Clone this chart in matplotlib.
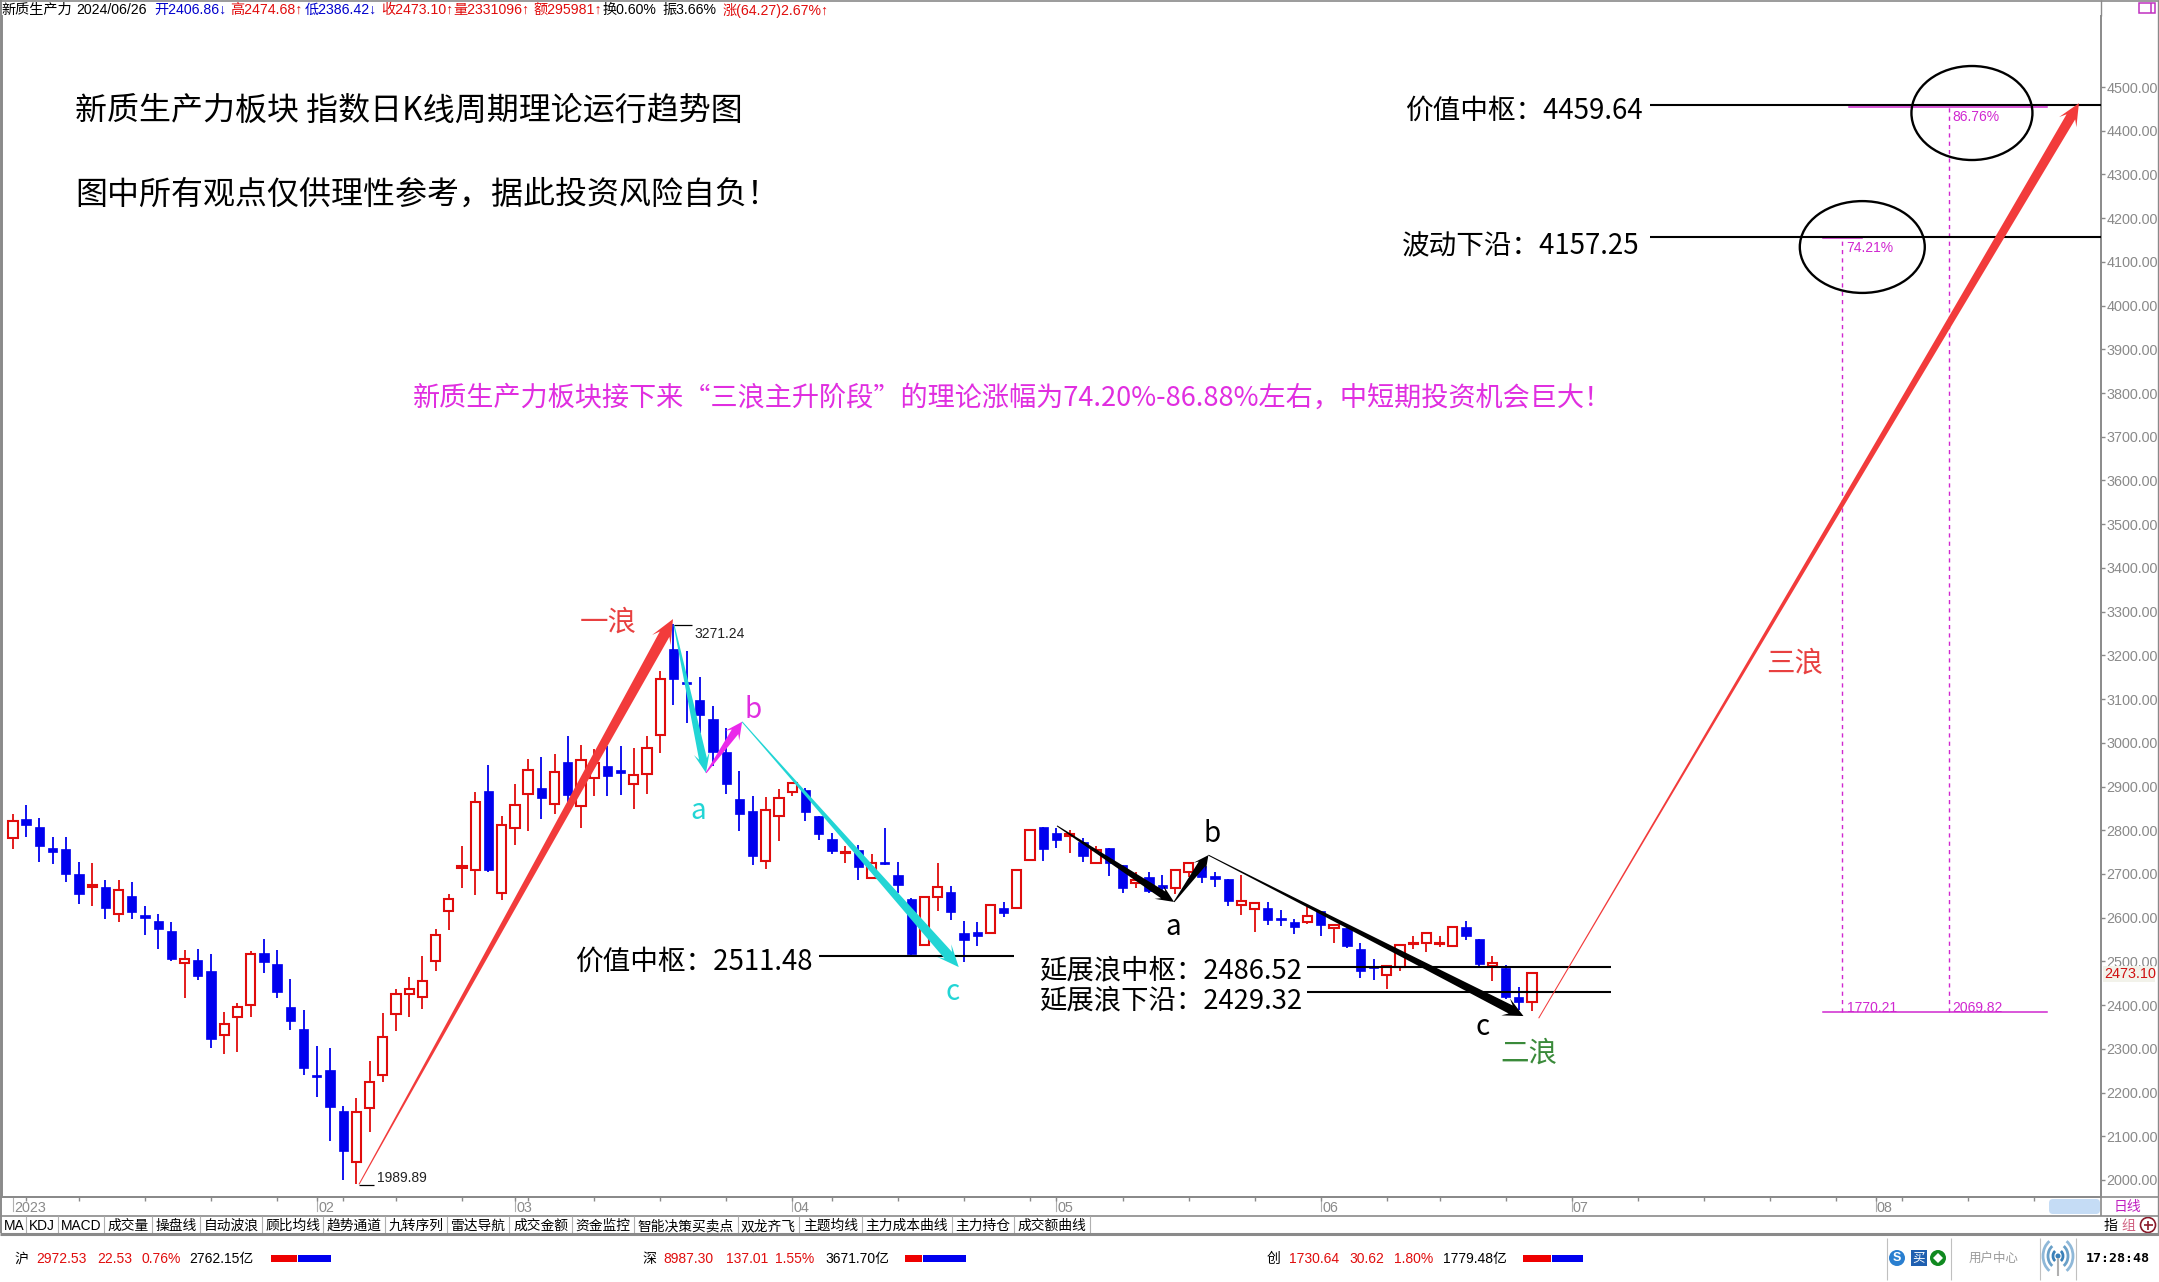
import matplotlib
matplotlib.use("Agg")
import matplotlib.pyplot as plt
from matplotlib.patches import Rectangle, Polygon, Ellipse, Circle, FancyBboxPatch, Arc
from matplotlib.transforms import IdentityTransform, blended_transform_factory

# ---------- data ----------
opens = [2782,2826,2807,2759,2757,2700,2670,2670,2608,2650,2605,2593,2570,2496,2503,2478,2331,2372,2400,2519,2494,2396,2345,2240,2252,2158,2041,2164,2240,2379,2425,2419,2500,2615,2713,2709,2890,2656,2804,2883,2896,2860,2955,2855,2919,2946,2938,2905,2929,3018,3214,3138,3099,3054,2979,2871,2844,2730,2832,2887,2891,2833,2780,2747,2755,2690,2728,2698,2643,2538,2648,2658,2565,2567,2564,2622,2622,2732,2807,2794,2786,2772,2724,2759,2721,2680,2692,2675,2667,2705,2719,2695,2688,2629,2619,2622,2599,2589,2589,2615,2576,2576,2528,2488,2468,2487,2539,2541,2539,2536,2578,2551,2490,2485,2419,2406.86]
highs = [2837,2858,2828,2785,2785,2727,2724,2686,2686,2682,2627,2608,2590,2526,2528,2517,2384,2404,2523,2551,2526,2460,2389,2307,2302,2169,2188,2272,2382,2436,2464,2512,2573,2654,2764,2888,2949,2832,2906,2964,2968,2974,3015,2995,2985,2993,2993,2987,3016,3164,3271.24,3210,3150,3084,3033,2935,2878,2875,2894,2911,2896,2833,2793,2763,2766,2746,2804,2727,2644,2650,2724,2672,2592,2589,2631,2636,2711,2802,2807,2804,2801,2782,2765,2759,2721,2705,2704,2698,2711,2726,2721,2704,2688,2697,2634,2635,2618,2597,2624,2616,2586,2576,2541,2505,2490,2539,2557,2568,2558,2581,2592,2552,2512,2491,2441,2474.68]
lows = [2757,2785,2728,2723,2682,2631,2627,2597,2591,2597,2560,2528,2501,2416,2458,2302,2288,2293,2373,2474,2416,2343,2240,2190,2089,2000,1989.89,2110,2224,2341,2373,2391,2478,2572,2668,2652,2705,2641,2766,2799,2825,2837,2861,2806,2879,2879,2881,2849,2884,2977,3086,3046,3022,2948,2883,2799,2720,2712,2776,2879,2822,2778,2746,2725,2686,2688,2720,2656,2515,2536,2616,2595,2498,2535,2562,2601,2619,2729,2730,2760,2749,2728,2722,2695,2657,2667,2657,2660,2654,2692,2679,2671,2627,2607,2568,2584,2581,2563,2585,2557,2543,2531,2463,2458,2438,2479,2528,2522,2534,2534,2550,2490,2456,2413,2389,2386.42]
closes = [2820,2811,2765,2751,2701,2654,2674,2621,2663,2613,2599,2575,2506,2505,2467,2323,2356,2395,2516,2499,2430,2364,2256,2236,2167,2066,2155,2223,2326,2425,2436,2456,2560,2642,2718,2865,2709,2813,2858,2938,2874,2934,2881,2961,2953,2923,2932,2927,2987,3147,3147,3134,3064,2979,2906,2838,2741,2846,2874,2907,2842,2791,2753,2751,2717,2724,2723,2675,2517,2648,2671,2612,2550,2559,2630,2611,2709,2801,2758,2778,2791,2740,2755,2724,2669,2686,2662,2669,2709,2724,2692,2688,2637,2639,2633,2594,2595,2579,2603,2584,2584,2535,2477,2484,2489,2538,2543,2564,2541,2579,2558,2494,2496,2418,2408,2473.10]

y_ticks = list(range(2000, 4600, 100))
y_labels = [f"{v}.00" for v in y_ticks]
week_ticks = [1,5,10,15,20,23,25,29,34,38,39,44,49,54,59,62,67,72,77,79,84,89,94,99,104,108,113,118,123,128,133,138,141,143,148,153]
month_labels = ["2023","02","03","04","05","06","07","08"]
month_pos = [0,23,38,59,79,99,118,141]

wave1 = [(26.2,1990),(49.97,3283)]
a1 = [(50.05,3269),(52.47,2931)]
b1 = [(52.47,2931),(55.2,3048)]
c1 = [(55.2,3048),(71.6,2487)]
a2 = [(79.04,2810),(87.9,2636)]
b2 = [(87.9,2636),(90.5,2743)]
c2 = [(90.5,2743),(114.35,2375)]
wave3 = [(115.5,2370),(156.4,4463)]

levels = [(4459.64,123.9,158.1),(4157.25,123.9,158.1),(2511.48,61,75.8),(2486.52,98,121),(2429.32,98,121)]
fib_base, fib_high, fib_mid = 2384, 4454, 4155
fib_x1, fib_x2 = 138.5, 146.6

tab_names = ["MA","KDJ","MACD","成交量","操盘线","自动波浪","顾比均线","趋势通道","九转序列","雷达导航","成交金额","资金监控","智能决策买卖点","双龙齐飞","主题均线","主力成本曲线","主力持仓","成交额曲线"]
tab_edges = [2,26,58,104,152,200,262,323,385,447,509,572,634,738,799,862,952,1014,1090]

# ---------- layout ----------
W, H = 2159, 1282
DPI = 100
plt.rcParams['font.family'] = ['Liberation Sans', 'Noto Sans CJK SC', 'DejaVu Sans']
CJK = ['Noto Sans CJK SC', 'DejaVu Sans']
GRAY = '#8a8a8a'
RED = '#e00c0c'
BLUE = '#0000ee'
MAG = '#e02ee0'
FIB = '#d028d0'
ARED = '#f23b3b'
CYAN = '#22d5d5'

fig = plt.figure(figsize=(W/DPI, H/DPI), dpi=DPI, facecolor='white')
L, R, T, B = 2, 2101, 16, 1197
ax = fig.add_axes([L/W, 1-B/H, (R-L)/W, (B-T)/H])
ax.set_xlim(-0.825, 158.07)
ax.set_ylim(1961.1, 4662.4)
ax.spines['top'].set_visible(False)
for s in ['left','right','bottom']:
    ax.spines[s].set_color(GRAY)
    ax.spines[s].set_linewidth(1.4)
ax.yaxis.tick_right()
ax.set_yticks(y_ticks)
ax.set_yticklabels(y_labels, fontsize=10.4, color=GRAY)
ax.tick_params(axis='y', length=3, width=1, color=GRAY, pad=1)
ax.set_xticks(week_ticks)
ax.set_xticklabels([])
ax.tick_params(axis='x', length=3, width=1, color=GRAY)

# ---------- candles ----------
bw = 0.70
for i, (o, h, l, c) in enumerate(zip(opens, highs, lows, closes)):
    up = c >= o
    col = RED if up else BLUE
    ax.vlines(i, l, h, color=col, lw=1.3, zorder=2)
    top, bot = max(o, c), min(o, c)
    ht = max(top-bot, 3)
    ax.add_patch(Rectangle((i-bw/2, bot), bw, ht, facecolor='white' if up else col,
                           edgecolor=col, lw=1.5 if up else 0.5, zorder=3))

# ---------- arrows ----------
def arrow(pts, color, w, hw, hl_, tail=1.0, power=1.0):
    (x0, y0), (x1, y1) = ax.transData.transform(pts)
    dx, dy = x1-x0, y1-y0
    n = (dx*dx+dy*dy)**0.5
    ux, uy = dx/n, dy/n
    px_, py_ = -uy, ux
    bx, by = x1-ux*hl_, y1-uy*hl_
    nx, ny = x1-ux*hl_*0.72, y1-uy*hl_*0.72
    left, right = [], []
    for k in range(21):
        f = k/20
        width = tail + (w-tail)*f**power
        cx, cy = x0+(nx-x0)*f, y0+(ny-y0)*f
        left.append((cx+px_*width/2, cy+py_*width/2))
        right.append((cx-px_*width/2, cy-py_*width/2))
    poly = left + [(bx+px_*hw/2, by+py_*hw/2), (x1, y1), (bx-px_*hw/2, by-py_*hw/2)] + right[::-1]
    ax.add_patch(Polygon(poly, closed=True, facecolor=color, edgecolor='none',
                         transform=IdentityTransform(), zorder=6))

arrow(wave1, ARED, 11, 21, 24, power=1.15)
arrow(a1, CYAN, 8, 16, 20)
arrow(b1, '#ea28ea', 8, 17, 17)
arrow(c1, CYAN, 10, 19, 22, power=1.2)
arrow(a2, 'black', 8, 16, 18)
arrow(b2, 'black', 8, 15, 15)
arrow(c2, 'black', 9, 19, 20, power=1.2)
arrow(wave3, ARED, 10, 20, 22, power=1.6)

# ---------- level lines, fib ----------
for v, x0, x1 in levels:
    ax.plot([x0, x1], [v, v], color='black', lw=1.5, zorder=5, solid_capstyle='butt')
ax.plot([137, 154], [fib_base]*2, color=FIB, lw=1.1, zorder=4)
ax.plot([139, 154], [fib_high]*2, color=FIB, lw=1.1, zorder=4)
ax.plot([137, 140], [fib_mid]*2, color=FIB, lw=1.1, zorder=4)
ax.plot([fib_x1]*2, [fib_base, fib_mid], color=FIB, lw=1.0, ls=(0, (3, 3)), zorder=4)
ax.plot([fib_x2]*2, [fib_base, fib_high], color=FIB, lw=1.0, ls=(0, (3, 3)), zorder=4)
ax.add_patch(Ellipse((148.3, 4440.5), 9.16, 215, fill=False, ec='black', lw=1.7, zorder=7))
ax.add_patch(Ellipse((140.0, 4134), 9.46, 210, fill=False, ec='black', lw=1.7, zorder=7))

# ---------- date strip labels on axis ----------
tr = blended_transform_factory(ax.transData, ax.transAxes)
for p, lab in zip(month_pos, month_labels):
    ax.plot([p, p], [0, -14/(B-T)], transform=tr, color='#b0b0b0', lw=0.8, clip_on=False, zorder=1)
    ax.text(p+0.1, -11/(B-T), lab, transform=tr, color=GRAY, fontsize=10.4, ha='left', va='center')

# ---------- overlay in pixels ----------
ov = fig.add_axes([0, 0, 1, 1], facecolor='none', zorder=10)
ov.set_xlim(0, W)
ov.set_ylim(H, 0)
ov.axis('off')

def t(x, y, s, size=10.4, color='black', ha='left', va='center', fam=None, **kw):
    ov.text(x, y, s, fontsize=size, color=color, ha=ha, va=va,
            family=fam if fam else plt.rcParams['font.family'], **kw)

def hl(x0, x1, y, color=GRAY, lw=1.0):
    ov.plot([x0, x1], [y, y], color=color, lw=lw, solid_capstyle='butt')

def vl(x, y0, y1, color=GRAY, lw=1.0):
    ov.plot([x, x], [y0, y1], color=color, lw=lw, solid_capstyle='butt')

# frame and header
hl(0, 2159, 0.8, GRAY, 1.2)
vl(2101, 0, 16, GRAY, 1.0)
vl(2158, 0, 1233, GRAY, 1.0)
ov.add_patch(Rectangle((2139, 3), 16, 10, fill=False, ec='#c030c0', lw=1.1))
vl(2151, 3, 13, '#c030c0', 1.1)
hdr = [(1,"新质生产力",'black'),(76,"2024/06/26",'black'),(154,"开2406.86↓",'#0000cc'),
       (230,"高2474.68↑",RED),(305,"低2386.42↓",'#0000cc'),(381,"收2473.10↑",RED),
       (453,"量2331096↑",RED),(533,"额295981↑",RED),(603,"换0.60%",'black'),
       (662,"振3.66%",'black'),(723,"涨(64.27)2.67%↑",RED)]
for x, s, c in hdr:
    t(x, 10, s, 10.2, c)

# big text
t(75, 111, "新质生产力板块 指数日K线周期理论运行趋势图", 23, fam=CJK)
t(75, 195, "图中所有观点仅供理性参考，据此投资风险自负！", 23, fam=CJK)
t(413, 398, "新质生产力板块接下来“三浪主升阶段”的理论涨幅为74.20%-86.88%左右，中短期投资机会巨大！", 19.55, MAG, fam=CJK)
t(1405, 111, "价值中枢：4459.64", 19.9, fam=CJK)
t(1402, 246, "波动下沿：4157.25", 19.9, fam=CJK)
t(575, 962, "价值中枢：2511.48", 19.9, fam=CJK)
t(1039, 971, "延展浪中枢：2486.52", 19.7, fam=CJK)
t(1039, 1001, "延展浪下沿：2429.32", 19.7, fam=CJK)
t(608, 623, "一浪", 20.5, '#e84040', ha='center', fam=CJK)
t(1795, 664, "三浪", 20.5, '#e84040', ha='center', fam=CJK)
t(1529, 1054, "二浪", 20.5, '#3a8a3a', ha='center', fam=CJK)
for x, y, s, c in [(698,811,'a',CYAN),(753,710,'b','#e02ee0'),(953,992,'c',CYAN),
                   (1173,927,'a','black'),(1212,834,'b','black'),(1483,1027,'c','black')]:
    t(x, y, s, 20, c, ha='center', fam=CJK)

# small labels
hl(674, 692, 625, 'black', 0.9)
t(694, 634, "3271.24", 10, '#222222')
hl(359, 374, 1185, 'black', 0.9)
t(377, 1178, "1989.89", 10, '#222222')
t(1847, 1008, "1770.21", 10, FIB)
t(1952, 1008, "2069.82", 10, FIB)
t(1952, 117, "86.76%", 10, FIB)
t(1846, 248, "74.21%", 10, FIB)

# current price
ov.add_patch(Rectangle((2103, 966), 52, 16, facecolor='#f2f2ea', edgecolor='none'))
t(2104, 974, "2473.10", 10.4, '#d01010')

# date strip
hl(0, 2159, 1197, GRAY, 1.2)
ov.add_patch(FancyBboxPatch((2049, 1199), 51, 15, boxstyle="round,pad=0,rounding_size=4",
                            facecolor='#c5dcf5', edgecolor='none'))
vl(2101, 1197, 1216, GRAY, 1.2)
t(2127, 1207, "日线", 10, '#c020c0', ha='center', fam=CJK)
hl(0, 2159, 1216, GRAY, 1.2)
vl(1, 0, 1233, GRAY, 1.4)

# tabs
for a, b, s in zip(tab_edges[:-1], tab_edges[1:], tab_names):
    t((a+b)/2, 1226, s, 9.9, 'black', ha='center')
    vl(b, 1216, 1233, '#b0b0b0', 0.8)
t(2110, 1226, "指", 10, 'black', ha='center', fam=CJK)
t(2128, 1226, "组", 10, '#d06080', ha='center', fam=CJK)
ov.add_patch(Circle((2148, 1225), 7.5, fill=False, ec='#8a1a2a', lw=1.2))
hl(2143.5, 2152.5, 1225, '#8a1a2a', 1.2)
vl(2148, 1220.5, 1229.5, '#8a1a2a', 1.2)
hl(0, 2159, 1234, GRAY, 2.2)

# status bar
groups = [("沪",14,"2972.53",36,"22.53",97,"0.76%",142,"2762.15亿",189,271,298,331),
          ("深",642,"8987.30",663,"137.01",726,"1.55%",775,"3671.70亿",825,905,923,966),
          ("创",1267,"1730.64",1289,"30.62",1349,"1.80%",1394,"1779.48亿",1443,1523,1552,1583)]
for g in groups:
    t(g[1], 1259, g[0], 10, 'black')
    t(g[3], 1259, g[2], 10, RED)
    t(g[5], 1259, g[4], 10, RED)
    t(g[7], 1259, g[6], 10, RED)
    t(g[9], 1259, g[8], 10, 'black')
    ov.add_patch(Rectangle((g[10], 1255), g[11]-g[10]-1, 7, facecolor='#ee0000', edgecolor='none'))
    ov.add_patch(Rectangle((g[11], 1255), g[12]-g[11], 7, facecolor='#0000ee', edgecolor='none'))

for x in (1887, 1951, 2040, 2076):
    vl(x, 1238, 1280, '#c0c0c0', 0.8)
ov.add_patch(Circle((1897, 1258), 8, facecolor='#2a7fd0', edgecolor='none'))
t(1897, 1258, "S", 9, 'white', ha='center', weight='bold')
ov.add_patch(Rectangle((1911, 1250), 16, 16, facecolor='#1f5fb0', edgecolor='none'))
t(1919, 1258, "买", 9, 'white', ha='center', fam=CJK)
ov.add_patch(Circle((1938, 1258), 8, facecolor='#108a20', edgecolor='none'))
ov.add_patch(Polygon([(1938,1253),(1943,1258),(1938,1263),(1933,1258)], facecolor='white', edgecolor='none'))
t(1994, 1258, "用户中心", 9, '#9a9a9a', ha='center', fam=CJK)
for w_, c_ in [(30, '#8fb8d8'), (20, '#6aa0c8'), (10, '#3a80b8')]:
    ov.add_patch(Arc((2058, 1256), w_, w_*1.2, theta1=120, theta2=240, color=c_, lw=2))
    ov.add_patch(Arc((2058, 1256), w_, w_*1.2, theta1=-60, theta2=60, color=c_, lw=2))
ov.add_patch(Circle((2058, 1256), 2.5, facecolor='#3a80b8', edgecolor='none'))
vl(2058, 1258, 1276, '#b0b0b0', 1.5)
t(2086, 1258, "17:28:48", 9.5, 'black', fam=['DejaVu Sans Mono'], weight='bold')

fig.savefig("out.png", dpi=DPI, facecolor='white')
